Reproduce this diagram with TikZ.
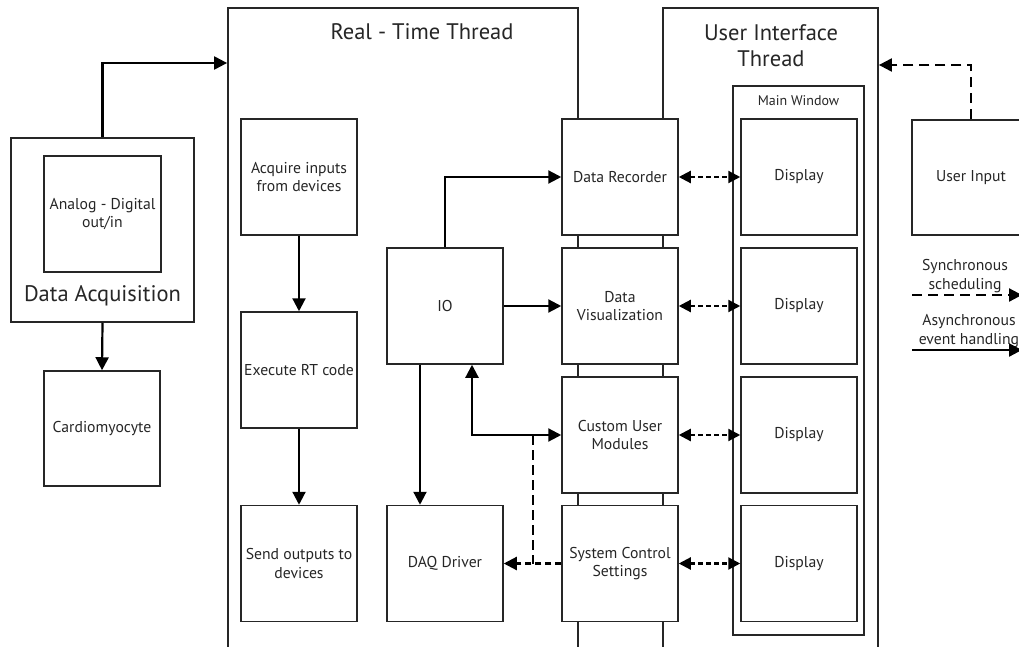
\documentclass[tikz,border=0pt]{standalone}
\usepackage{fontspec}
\setmainfont{PT Sans}
\usetikzlibrary{arrows.meta}
\definecolor{ink}{HTML}{262626}
\tikzset{
  box/.style={draw=ink, line width=1.5pt, fill=white, minimum width=116pt, minimum height=116pt,
              align=center, text=ink, font=\fontsize{15.7}{18.5}\selectfont, inner sep=2pt},
  thread/.style={draw=ink, line width=1.8pt, fill=white},
  title/.style={text=ink, font=\fontsize{22.5}{26}\selectfont, align=center},
  arr/.style={line width=2.2pt, -{Triangle[length=13pt,width=13pt]}},
  biarr/.style={line width=2.2pt, {Triangle[length=13pt,width=13pt]}-{Triangle[length=13pt,width=13pt]}},
  dasharr/.style={line width=2.2pt, dash pattern=on 10pt off 6pt, -{Triangle[length=13pt,width=13pt]}},
  shortdash/.style={line width=2.2pt, dash pattern=on 6pt off 4pt},
  dashbi/.style={line width=2.2pt, dash pattern=on 5pt off 3pt, {Triangle[length=12pt,width=12pt]}-{Triangle[length=12pt,width=12pt]}},
  legend/.style={text=ink, font=\fontsize{15.7}{18.5}\selectfont, align=center}
}
\begin{document}
\begin{tikzpicture}[x=1pt, y=-1pt]
\useasboundingbox (0,0) rectangle (1019,647);
\clip (0,0) rectangle (1019,647);

% thread containers (open at the bottom of the page)
\node[thread, minimum width=350pt, minimum height=670pt] (rt) at (403,343) {};
\node[thread, minimum width=215pt, minimum height=670pt] (ui) at (770.5,343) {};
\node[title] (rttitle) at (422,32) {Real - Time Thread};
\node[title] (uititle) at (771,46) {User Interface\\Thread};

% main window with its displays
\node[draw=ink, line width=1.5pt, fill=white, minimum width=131pt, minimum height=549pt] (mw) at (798.5,360.5) {};
\node[text=ink, font=\fontsize{14}{16}\selectfont] (mwlabel) at (798.5,101) {Main Window};
\node[box] (d1) at (799,177) {Display};
\node[box] (d2) at (799,306) {Display};
\node[box] (d3) at (799,435) {Display};
\node[box] (d4) at (799,563.5) {Display};

% data acquisition hardware
\node[box, minimum width=183pt, minimum height=184pt] (daq) at (102.5,230) {};
\node[box, minimum width=117pt] (adc) at (102.5,214) {Analog - Digital\\out/in};
\node[title] (daqlabel) at (102.5,296) {Data Acquisition};
\node[box, minimum height=115pt] (cardio) at (102,428.5) {Cardiomyocyte};

% real-time loop
\node[box] (acq) at (299,177) {Acquire inputs\\from devices};
\node[box] (exec) at (299,370) {Execute RT code};
\node[box] (send) at (299,563.5) {Send outputs to\\devices};
\node[box] (io) at (445,306) {IO};
\node[box] (daqd) at (445,563.5) {DAQ Driver};

% modules shared between both threads
\node[box] (rec) at (620,177) {Data Recorder};
\node[box] (vis) at (620,306) {Data\\Visualization};
\node[box] (cum) at (620,435) {Custom User\\Modules};
\node[box] (scs) at (620,563.5) {System Control\\Settings};

% user input
\node[box, minimum width=118pt, minimum height=115pt] (uin) at (971,177.5) {User Input};

% connectors
\draw[arr] (daq.north) |- (rt.west |- 0,63);
\draw[arr] (daq.south) -- (cardio.north);
\draw[arr] (acq.south) -- (exec.north);
\draw[arr] (exec.south) -- (send.north);
\draw[arr] (io.north) |- (rec.west);
\draw[arr] (io.east) -- (vis.west);
\draw[arr] (io.south -| 420,0) -- (daqd.north -| 420,0);
\draw[biarr] (io.south -| 472,0) |- (cum.west);
\draw[dasharr, dash pattern=on 6pt off 4pt] (scs.west) -- (daqd.east);
\draw[shortdash, dash pattern=on 10pt off 5pt] (cum.west -| 533,0) -- (scs.west -| 533,0);
\draw[dashbi] (rec.east) -- (d1.west);
\draw[dashbi] (vis.east) -- (d2.west);
\draw[dashbi] (cum.east) -- (d3.west);
\draw[dashbi] (scs.east) -- (d4.west);
\draw[dasharr] (uin.north) |- (ui.east |- 0,65);

% legend
\node[legend] (synclabel) at (965,276) {Synchronous\\scheduling};
\node[legend] (asynclabel) at (969,331) {Asynchronous\\event handling};
\coordinate (s0) at (912,295);
\coordinate (s1) at (1022,295);
\coordinate (a0) at (912,350);
\coordinate (a1) at (1022,350);
\draw[dasharr] (s0) -- (s1);
\draw[arr] (a0) -- (a1);
\end{tikzpicture}
\end{document}
